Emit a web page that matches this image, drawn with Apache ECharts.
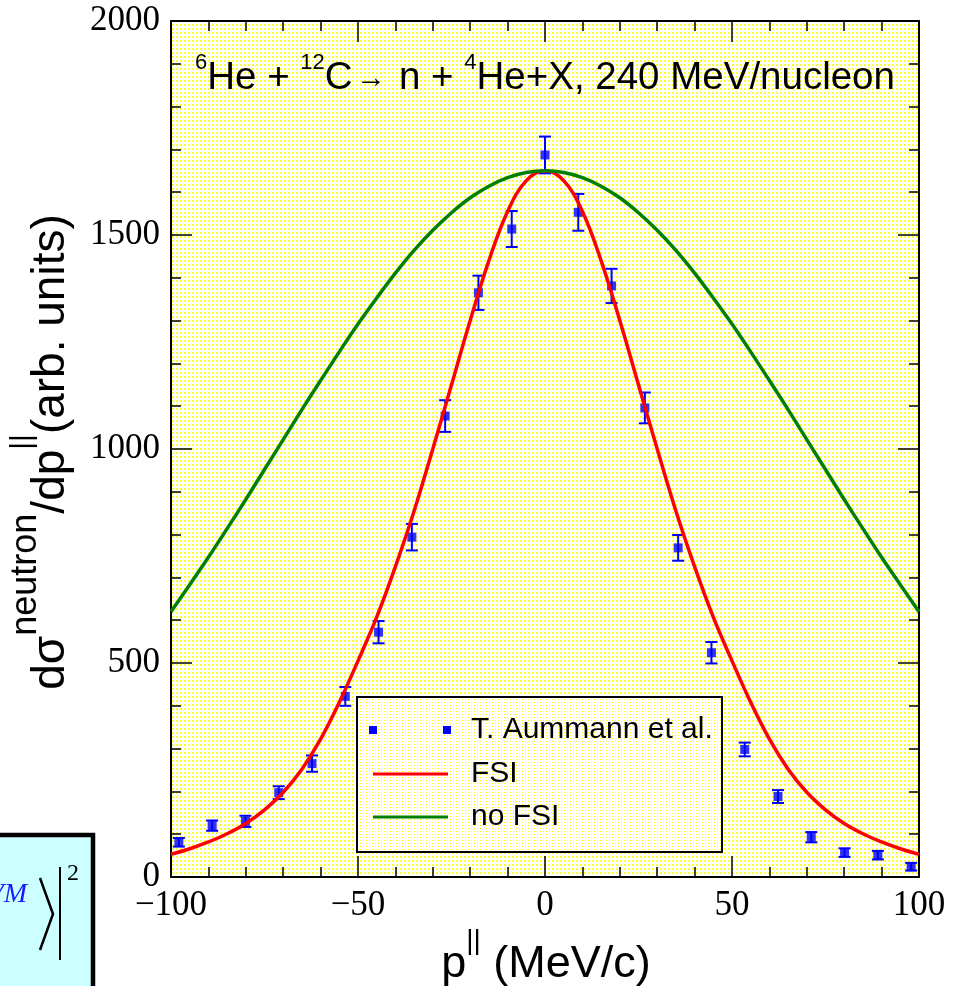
<!DOCTYPE html>
<html>
<head>
<meta charset="utf-8">
<script src="https://cdn.jsdelivr.net/npm/echarts@6/dist/echarts.min.js"></script>
<style>
html, body { margin: 0; padding: 0; background: #fff; }
#chart { width: 965px; height: 986px; }
</style>
</head>
<body>
<div id="chart"></div>
<script>
// Measured neutron momentum distribution (T. Aumann et al.)
const momentum = [-97.9, -89.0, -80.1, -71.2, -62.3, -53.4, -44.5, -35.6, -26.7, -17.8, -8.9, 0,
                  8.9, 17.8, 26.7, 35.6, 44.5, 53.4, 62.3, 71.2, 80.1, 89.0, 97.9];
const counts   = [81, 120, 130, 197, 265, 422, 572, 794, 1077, 1365, 1514, 1687,
                  1553, 1381, 1096, 769, 524, 298, 188, 93, 57, 51, 24];
const errors   = [10, 12, 13, 15, 19, 22, 26, 31, 37, 40, 42, 43,
                  43, 40, 36, 30, 25, 16, 15, 12, 10, 10, 9];

// Calculated curves, sampled every 5 MeV/c
const curveP = [-100, -95, -90, -85, -80, -75, -70, -65, -60, -55, -50, -45, -40, -35, -30, -25, -20,
                -15, -10, -5, 0, 5, 10, 15, 20, 25, 30, 35, 40, 45, 50, 55, 60, 65, 70, 75, 80, 85, 90, 95, 100];
const fsi      = [53, 66, 82, 101, 125, 157, 198, 252, 322, 408, 505, 607, 725, 855, 1000, 1150, 1300,
                  1440, 1555, 1627, 1650, 1627, 1555, 1440, 1300, 1150, 1000, 855, 725, 607, 505, 408, 322, 252, 198, 157, 125, 101, 82, 66, 53];
const noFsi    = [620, 683, 747, 814, 882, 952, 1022, 1092, 1160, 1227, 1292, 1353, 1411, 1464, 1511, 1552, 1587,
                  1614, 1634, 1646, 1650, 1646, 1634, 1614, 1587, 1552, 1511, 1464, 1411, 1353, 1292, 1227, 1160, 1092, 1022, 952, 882, 814, 747, 683, 620];

const xTicks = { min: -100, max: 100, interval: 50 };
const yTicks = { min: 0, max: 2000, interval: 500 };

const legendNames = ['T. Aummann et al.', 'FSI', 'no FSI'];

// Yellow dotted fill tiles
function dotTile(w, h, dots, size, color) {
  const c = document.createElement('canvas');
  c.width = w; c.height = h;
  const g = c.getContext('2d');
  g.fillStyle = '#ffffff';
  g.fillRect(0, 0, w, h);
  g.fillStyle = color;
  dots.forEach(([x, y]) => g.fillRect(x, y, size, size));
  return c;
}
const plotFill = { image: dotTile(4, 4, [[0, 0]], 2, '#ffff30'), repeat: 'repeat' };
const legendFill = { image: dotTile(3, 3, [[0, 0]], 1, '#ffff00'), repeat: 'repeat' };

const SANS = 'Liberation Sans';
const SERIF = 'Liberation Serif';
const minus = v => (v < 0 ? '\u2212' + Math.abs(v) : String(v));

const GRID = { left: 171, top: 21, right: 46, bottom: 109 };
const W = 965, H = 986;

function axisCommon(showLabels) {
  return {
    axisLine: { show: true, onZero: false, lineStyle: { color: '#000', width: 2 } },
    axisTick: { show: true, inside: true, length: 21, lineStyle: { color: '#000', width: 1.5 } },
    minorTick: { show: true, splitNumber: 5, length: 10, lineStyle: { color: '#000', width: 1.5 } },
    splitLine: { show: false },
    minorSplitLine: { show: false },
    axisLabel: {
      show: showLabels, color: '#000', fontFamily: SERIF, fontSize: 35, margin: 11,
      formatter: minus
    }
  };
}

const titleRich = {
  m: { fontFamily: SANS, fontSize: 38.5, lineHeight: 54, verticalAlign: 'bottom', fill: '#000' },
  s: { fontFamily: SANS, fontSize: 22, lineHeight: 22, padding: [8, 0, 0, 0], verticalAlign: 'top', fill: '#000' }
};

const chart = echarts.init(document.getElementById('chart'), null, { renderer: 'canvas' });

const option = {
  backgroundColor: '#ffffff',
  animation: false,
  grid: Object.assign({ show: false }, GRID),
  xAxis: [
    Object.assign({ type: 'value', position: 'bottom' }, xTicks, axisCommon(true)),
    Object.assign({ type: 'value', position: 'top' }, xTicks, axisCommon(false))
  ],
  yAxis: [
    Object.assign({ type: 'value', position: 'left' }, yTicks, axisCommon(true)),
    Object.assign({ type: 'value', position: 'right' }, yTicks, axisCommon(false))
  ],
  series: [
    {
      name: legendNames[0] + ' errors',
      type: 'custom',
      z: 2,
      data: momentum.map((p, i) => [p, counts[i] - errors[i], counts[i] + errors[i]]),
      encode: { x: 0, y: [1, 2] },
      renderItem(params, api) {
        const lo = api.coord([api.value(0), api.value(1)]);
        const hi = api.coord([api.value(0), api.value(2)]);
        const cap = 6;
        const st = { stroke: '#0000ff', lineWidth: 2 };
        return {
          type: 'group',
          children: [
            { type: 'line', shape: { x1: lo[0], y1: lo[1], x2: hi[0], y2: hi[1] }, style: st },
            { type: 'line', shape: { x1: lo[0] - cap, y1: lo[1], x2: lo[0] + cap, y2: lo[1] }, style: st },
            { type: 'line', shape: { x1: hi[0] - cap, y1: hi[1], x2: hi[0] + cap, y2: hi[1] }, style: st }
          ]
        };
      }
    },
    {
      name: legendNames[0],
      type: 'scatter',
      z: 3,
      symbol: 'rect',
      symbolSize: 9,
      itemStyle: { color: '#0000ff' },
      data: momentum.map((p, i) => [p, counts[i]])
    },
    {
      name: legendNames[1],
      type: 'line',
      z: 4,
      smooth: 0.4,
      showSymbol: false,
      lineStyle: { color: '#ff0000', width: 3.5 },
      data: curveP.map((p, i) => [p, fsi[i]])
    },
    {
      name: legendNames[2],
      type: 'line',
      z: 4,
      smooth: 0.4,
      showSymbol: false,
      lineStyle: { color: '#008000', width: 3.5 },
      data: curveP.map((p, i) => [p, noFsi[i]])
    }
  ],
  graphic: [
    // dotted plot background
    {
      type: 'rect', z: -5, silent: true,
      shape: { x: GRID.left, y: GRID.top, width: W - GRID.left - GRID.right, height: H - GRID.top - GRID.bottom },
      style: { fill: plotFill }
    },
    // reaction title inside the plot
    {
      type: 'text', left: 195, top: 44, z: 10,
      style: { text: '{s|6}{m|He + }{s|12}{m|C}', rich: titleRich }
    },
    {
      type: 'text', x: 371, y: 79, z: 10,
      style: { text: '\u2192', fontFamily: SANS, fontSize: 30, fill: '#000', align: 'center', verticalAlign: 'middle' }
    },
    {
      type: 'text', left: 399, top: 44, z: 10,
      style: { text: '{m|n + }{s|4}{m|He+X, 240 MeV/nucleon}', rich: titleRich }
    },
    // y-axis title
    {
      type: 'text', x: 41, y: 452, rotation: Math.PI / 2, z: 10,
      style: {
        text: '{m|d\u03c3}{s|neutron}{m|/dp}{b|||}{m|(arb. units)}',
        align: 'center', verticalAlign: 'middle',
        rich: {
          m: { fontFamily: SANS, fontSize: 46, lineHeight: 66, verticalAlign: 'bottom', fill: '#000' },
          s: { fontFamily: SANS, fontSize: 36, lineHeight: 36, verticalAlign: 'top', fill: '#000' },
          b: { fontFamily: SANS, fontSize: 30, lineHeight: 30, verticalAlign: 'top', fill: '#000' }
        }
      }
    },
    // x-axis title
    {
      type: 'text', x: 546, y: 957, z: 10,
      style: {
        text: '{m|p}{b|||}{m| (MeV/c)}',
        align: 'center', verticalAlign: 'middle',
        rich: {
          m: { fontFamily: SANS, fontSize: 45, lineHeight: 60, verticalAlign: 'bottom', fill: '#000' },
          b: { fontFamily: SANS, fontSize: 28, lineHeight: 28, verticalAlign: 'top', fill: '#000' }
        }
      }
    },
    // legend
    {
      type: 'group', z: 10,
      children: [
        { type: 'rect', shape: { x: 357, y: 697, width: 365, height: 155 },
          style: { fill: legendFill, stroke: '#000', lineWidth: 2 } },
        { type: 'rect', shape: { x: 369, y: 726, width: 8, height: 8 }, style: { fill: '#0000ff' } },
        { type: 'rect', shape: { x: 443, y: 726, width: 8, height: 8 }, style: { fill: '#0000ff' } },
        { type: 'line', shape: { x1: 373, y1: 774, x2: 448, y2: 774 }, style: { stroke: '#ff0000', lineWidth: 3 } },
        { type: 'line', shape: { x1: 373, y1: 817, x2: 448, y2: 817 }, style: { stroke: '#008000', lineWidth: 3 } },
        { type: 'text', x: 471, y: 730, style: { text: legendNames[0], fontFamily: SANS, fontSize: 30, fill: '#000', verticalAlign: 'middle' } },
        { type: 'text', x: 471, y: 774, style: { text: legendNames[1], fontFamily: SANS, fontSize: 30, fill: '#000', verticalAlign: 'middle' } },
        { type: 'text', x: 471, y: 817, style: { text: legendNames[2], fontFamily: SANS, fontSize: 30, fill: '#000', verticalAlign: 'middle' } }
      ]
    },
    // neighbouring formula panel at the lower left edge
    {
      type: 'group', z: 10,
      children: [
        { type: 'rect', shape: { x: -10, y: 835, width: 103, height: 170 },
          style: { fill: '#ccffff', stroke: '#000', lineWidth: 4.5 } },
        { type: 'text', x: 27, y: 895, style: { text: 'VM', fontFamily: SERIF, fontStyle: 'italic', fontSize: 28, fill: '#1a1aff', align: 'right', verticalAlign: 'middle' } },
        { type: 'polyline', shape: { points: [[40, 878], [53, 914], [40, 950]] }, style: { stroke: '#000', lineWidth: 2.5, fill: null } },
        { type: 'line', shape: { x1: 60, y1: 867, x2: 60, y2: 960 }, style: { stroke: '#000', lineWidth: 2 } },
        { type: 'text', x: 67, y: 874, style: { text: '2', fontFamily: SERIF, fontSize: 24, fill: '#000', verticalAlign: 'middle' } }
      ]
    }
  ]
};

chart.setOption(option);
</script>
</body>
</html>
